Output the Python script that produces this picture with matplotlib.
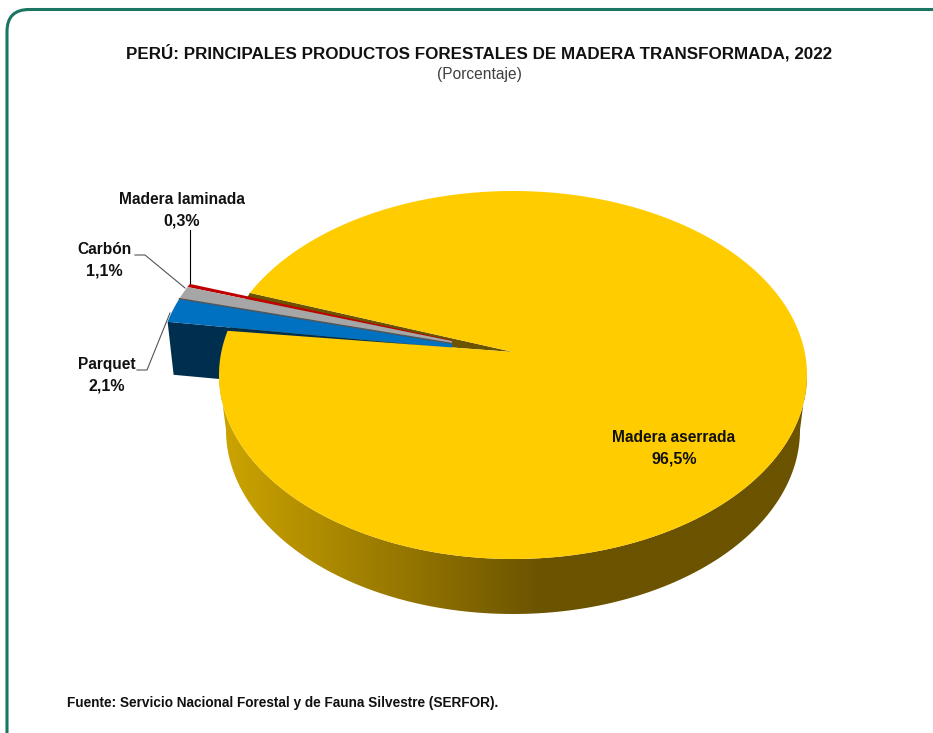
import numpy as np
import matplotlib
matplotlib.use('Agg')
import matplotlib.pyplot as plt
from matplotlib.colors import LinearSegmentedColormap
from matplotlib.patches import FancyBboxPatch, Polygon

plt.rcParams['font.family'] = ['Liberation Sans', 'DejaVu Sans']

# Data
categories = ['Madera laminada', 'Carbón', 'Parquet', 'Madera aserrada']
values = [0.3, 1.1, 2.1, 96.5]
colors = ['#c00000', '#a6a6a6', '#0070c0', '#ffcc00']

title = 'PERÚ: PRINCIPALES PRODUCTOS FORESTALES DE MADERA TRANSFORMADA, 2022'
subtitle = '(Porcentaje)'
source = 'Fuente: Servicio Nacional Forestal y de Fauna Silvestre (SERFOR).'

# Pie geometry in pixels
cx, cy = 513, 375
rx, ry = 294, 184
apex = np.array([513, 352])
small_apex = np.array([513, 353.5])  # rays of the small slices meet here
shift = np.array([-60, -9])  # explosion of the small slices
inner_x = 452  # small slices stop here, the wall shows between this and the apex
start_angle = 153.5
depth = 55
rx_low = 287


def rim(a0, a1, n=200, x0=cx, y0=cy, a=rx, b=ry):
    t = np.radians(np.linspace(a0, a1, n))
    return np.column_stack([x0 + a * np.cos(t), y0 - b * np.sin(t)])


def at_inner(p):
    # point of the ray small_apex -> p where it crosses inner_x
    f = (small_apex[0] - inner_x) / (small_apex[0] - p[0])
    return small_apex + f * (p - small_apex)


fig = plt.figure(figsize=(9.33, 7.33), dpi=100)
ax = fig.add_axes([0, 0, 1, 1])
ax.set_axis_off()

# Frame
ax.add_patch(FancyBboxPatch((27, 29.5), 930, 730, boxstyle='round,pad=20,rounding_size=22',
                            fc='white', ec='#1a7561', lw=2.2))

# Slice angles from the values
edges = start_angle + np.cumsum([0] + values) * 3.6

# Side of the big slice, shaded left to right
side = np.vstack([rim(180, 360), rim(360, 180, x0=cx, y0=cy + depth, a=rx_low)])
side_patch = Polygon(side, closed=True, fc='none', ec='none')
ax.add_patch(side_patch)
cmap = LinearSegmentedColormap.from_list('side', [(0, '#cda500'), (0.55, '#6b5300'), (1, '#6b5300')])
im = ax.imshow(np.linspace(0, 1, 256)[None, :], extent=(219, 807, 614, 375), cmap=cmap,
               aspect='auto', zorder=1)
im.set_clip_path(side_patch)

# Notch wall seen behind the small slices
corner_up = rim(edges[0], edges[0], 1)[0]
corner_low = rim(edges[3], edges[3], 1)[0]
ax.add_patch(Polygon([corner_up, apex, corner_low], fc='#6b5300', ec='none', zorder=2))

# Cut face of the blue slice
low = corner_low + shift
low_in = at_inner(low)
navy = [low_in, low, low + (6, 53), low_in + (6, 53)]
ax.add_patch(Polygon(navy, fc='#002e4f', ec='none', zorder=2.5))

# Small slices
for i in range(3):
    arc = rim(edges[i], edges[i + 1], 20) + shift
    pts = np.vstack([[at_inner(arc[0])], arc, [at_inner(arc[-1])]])
    ax.add_patch(Polygon(pts, fc=colors[i], ec='none', zorder=3))
    if i == 1:
        ax.plot([pts[-1, 0], arc[-1, 0]], [pts[-1, 1], arc[-1, 1]], color='#555555', lw=1, zorder=3.5)

# Big slice
top = np.vstack([[apex], rim(edges[3], edges[4], 400)])
ax.add_patch(Polygon(top, fc=colors[3], ec='none', zorder=4))

ax.set_xlim(0, 933)
ax.set_ylim(733, 0)

# Leader lines
ax.plot([190, 190], [230, 283], color='black', lw=0.8, zorder=5)
ax.plot([135, 145, 185], [255, 255, 288], color='#555555', lw=0.8, zorder=5)
ax.plot([137, 147, 170], [370, 370, 313], color='#555555', lw=0.8, zorder=5)

# Labels
label_pos = [(182, 199), (104.5, 249), (107, 364), (674, 437)]
for name, v, (x, y) in zip(categories, values, label_pos):
    pct = f'{v:.1f}'.replace('.', ',') + '%'
    ax.text(x, y, name, ha='center', va='center', fontsize=11.2, fontweight='bold', color='#111111', zorder=6)
    ax.text(x, y + 22, pct, ha='center', va='center', fontsize=11.5, fontweight='bold', color='#111111', zorder=6)

ax.text(479.5, 53, title, ha='center', va='center', fontsize=12.27, fontweight='bold', color='#111111')
ax.text(479, 74, subtitle, ha='center', va='center', fontsize=11.2, color='#404040')
ax.text(67, 703, source, ha='left', va='center', fontsize=9.8, fontweight='bold', color='#111111')

fig.savefig('out.png', dpi=100)
